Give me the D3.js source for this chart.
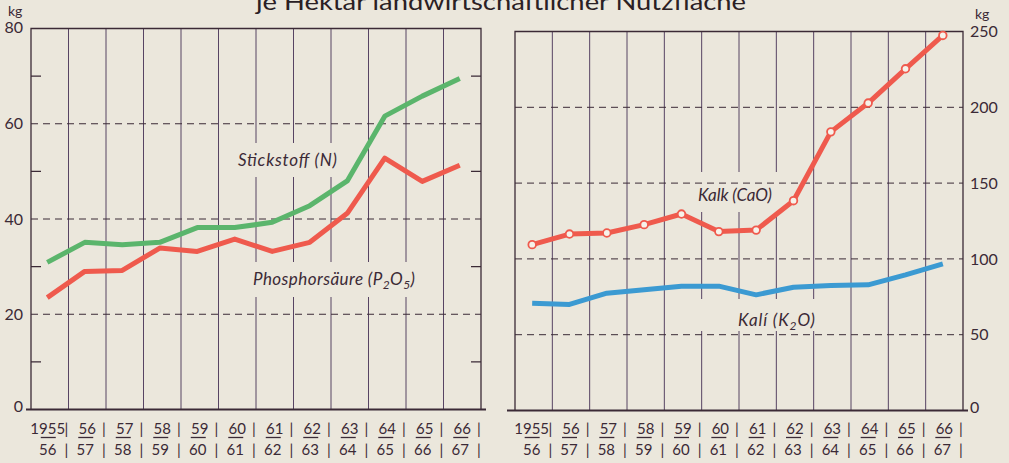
<!DOCTYPE html>
<html>
<head>
<meta charset="utf-8">
<script src="https://cdn.jsdelivr.net/npm/d3@7"></script>
<style>
html, body { margin: 0; padding: 0; background: #ebe7dc; }
svg { display: block; }
</style>
</head>
<body>
<svg id="chart" width="1009" height="463"></svg>
<script>
// Wirtschaftsjahre 1955/56 .. 1966/67
const seasonFrom = ["1955", "56", "57", "58", "59", "60", "61", "62", "63", "64", "65", "66"];
const seasonTo = ["56", "57", "58", "59", "60", "61", "62", "63", "64", "65", "66", "67"];

// kg je Hektar (links)
const stickstoff = [30.9, 35.1, 34.6, 35.1, 38.2, 38.2, 39.3, 42.8, 48.0, 61.6, 65.8, 69.5];
const phosphor = [23.5, 29.0, 29.2, 33.9, 33.2, 35.8, 33.2, 35.1, 41.2, 52.8, 47.9, 51.3];

// kg je Hektar (rechts)
const kalk = [109.4, 116.4, 117.1, 122.6, 129.6, 118.0, 119.0, 138.4, 183.8, 202.8, 225.4, 247.4];
const kali = [70.8, 70.0, 77.4, 79.6, 82.0, 82.0, 76.3, 81.3, 82.4, 82.9, 89.5, 96.7];

const leftTicks = [0, 20, 40, 60, 80];
const leftMinor = [10, 30, 50, 70];
const rightTicks = [0, 50, 100, 150, 200, 250];

const svg = d3.select("#chart");
const paper = "#ebe7dc";
const ink = "#3b2a36";
const gridInk = "#574463";
const font = "Lato, 'Noto Sans', sans-serif";

const idx = d3.range(seasonFrom.length);

svg.append("rect").attr("width", 1009).attr("height", 463).attr("fill", paper);

// title, cut off at the top edge
svg.append("text")
    .attr("x", 256).attr("y", 10)
    .attr("textLength", 490).attr("lengthAdjust", "spacingAndGlyphs")
    .attr("font-family", font).attr("font-size", 23).attr("fill", "#2a2024")
    .text("je Hektar landwirtschaftlicher Nutzfläche");

const xL = d3.scaleBand().domain(idx).range([31, 481]);
const yL = d3.scaleLinear().domain([0, 80]).range([409.5, 28.5]);
const xR = d3.scaleBand().domain(idx).range([515, 963]);
const yR = d3.scaleLinear().domain([0, 250]).range([410.5, 31.5]);

function drawPanel({ x, y, dashed, minor, knockouts, axisX0, axisX1 }) {
    const g = svg.append("g");
    const [x0, x1] = x.range();
    const [yb, yt] = y.range();

    // vertical column lines
    g.selectAll(".vline").data(idx.slice(1)).enter().append("line")
        .attr("x1", d => x(d)).attr("x2", d => x(d))
        .attr("y1", yt).attr("y2", yb)
        .attr("stroke", gridInk).attr("stroke-width", 1);

    // blank out the grid behind the series labels, as in print
    g.selectAll(".ko").data(knockouts).enter().append("rect")
        .attr("x", d => d[0]).attr("y", d => d[1]).attr("width", d => d[2]).attr("height", d => d[3])
        .attr("fill", paper);

    // dashed horizontal grid
    g.selectAll(".hline").data(dashed).enter().append("line")
        .attr("x1", x0).attr("x2", x1)
        .attr("y1", d => y(d)).attr("y2", d => y(d))
        .attr("stroke", ink).attr("stroke-width", 1)
        .attr("stroke-dasharray", "7,5");

    // small ticks on both borders
    g.selectAll(".minor").data(minor).enter().append("path")
        .attr("d", d => `M${x0},${y(d)}h10M${x1},${y(d)}h-10`)
        .attr("stroke", ink).attr("stroke-width", 1.2);

    // frame
    g.append("path")
        .attr("d", `M${x0},${yb}V${yt}H${x1}V${yb}`)
        .attr("fill", "none").attr("stroke", ink).attr("stroke-width", 1.3);
    g.append("line")
        .attr("x1", axisX0).attr("x2", axisX1).attr("y1", yb).attr("y2", yb)
        .attr("stroke", ink).attr("stroke-width", 2.2);

    // season labels below
    const lab = g.append("g")
        .attr("font-family", font).attr("font-size", 15).attr("fill", ink)
        .attr("text-anchor", "middle");
    const cx = i => x(i) + x.bandwidth() / 2;
    lab.selectAll(".from").data(idx).enter().append("text")
        .attr("x", d => cx(d) - (d === 0 ? 2 : 0)).attr("y", 434)
        .text(d => seasonFrom[d]);
    lab.selectAll(".to").data(idx).enter().append("text")
        .attr("x", d => cx(d) - 2).attr("y", 455)
        .text(d => seasonTo[d]);
    lab.selectAll(".bar").data(idx).enter().append("line")
        .attr("x1", d => cx(d) - 9).attr("x2", d => cx(d) + 6)
        .attr("y1", 437.5).attr("y2", 437.5)
        .attr("stroke", ink).attr("stroke-width", 1.3);
    lab.selectAll(".sep1").data(idx).enter().append("text")
        .attr("x", d => x(d) + x.bandwidth() - 2).attr("y", 434).text("|");
    lab.selectAll(".sep2").data(idx).enter().append("text")
        .attr("x", d => x(d) + x.bandwidth() - 2).attr("y", 455).text("|");

    return g;
}

function drawSeries(g, x, y, values, color, shift) {
    const line = d3.line()
        .x((d, i) => x(i) + x.bandwidth() / 2 + shift)
        .y(d => y(d));
    g.append("path").datum(values)
        .attr("d", line)
        .attr("fill", "none").attr("stroke", color)
        .attr("stroke-width", 5).attr("stroke-linejoin", "round");
}

function seriesLabel(px, py, width, parts) {
    const t = svg.append("text")
        .attr("x", px).attr("y", py)
        .attr("font-family", font).attr("font-size", 17).attr("font-style", "italic")
        .attr("fill", ink)
        .attr("textLength", width).attr("lengthAdjust", "spacing");
    parts.forEach(p => {
        const s = t.append("tspan").text(p.t);
        if (p.sub) s.attr("font-size", 12).attr("dy", 4);
        if (p.up) s.attr("dy", -4);
    });
}

// ---- left panel ----
const left = drawPanel({
    x: xL, y: yL,
    dashed: [20, 40, 60], minor: leftMinor,
    knockouts: [[233, 143, 110, 34], [248, 262, 172, 35]],
    axisX0: 26, axisX1: 486
});
drawSeries(left, xL, yL, stickstoff, "#5bb56c", -2.5);
drawSeries(left, xL, yL, phosphor, "#ef5a4d", -2.5);

const axL = svg.append("g").attr("transform", "translate(23,0)")
    .call(d3.axisLeft(yL).tickValues(leftTicks).tickSize(0).tickPadding(0));
axL.select(".domain").remove();
axL.selectAll("text").attr("font-family", font).attr("font-size", 16).attr("fill", ink)
    .attr("dy", d => d === 0 ? "0.1em" : d === 80 ? "0.25em" : "0.32em");
svg.append("text").attr("x", 8).attr("y", 16).attr("font-family", font).attr("font-size", 14)
    .attr("fill", ink).text("kg");

seriesLabel(238, 166, 99, [{ t: "Stickstoff (N)" }]);
seriesLabel(253, 285, 162, [{ t: "Phosphorsäure (P" }, { t: "2", sub: true }, { t: "O", up: true }, { t: "5", sub: true }, { t: ")", up: true }]);

// ---- right panel ----
const right = drawPanel({
    x: xR, y: yR,
    dashed: [50, 100, 150, 200], minor: [],
    knockouts: [[692, 172, 88, 40], [695, 299, 125, 32]],
    axisX0: 507, axisX1: 968
});
drawSeries(right, xR, yR, kali, "#3b9ad2", -1.5);
drawSeries(right, xR, yR, kalk, "#ef5a4d", -1.5);
right.selectAll(".mark").data(kalk).enter().append("circle")
    .attr("cx", (d, i) => xR(i) + xR.bandwidth() / 2 - 1.5)
    .attr("cy", d => yR(d))
    .attr("r", 3.8)
    .attr("fill", "#f6f2ea").attr("stroke", "#ef5a4d").attr("stroke-width", 1.8);

const axR = svg.append("g").attr("transform", "translate(970,0)")
    .call(d3.axisRight(yR).tickValues(rightTicks).tickSize(0).tickPadding(0));
axR.select(".domain").remove();
axR.selectAll("text").attr("font-family", font).attr("font-size", 16).attr("fill", ink)
    .attr("dy", d => d === 0 ? "0.15em" : "0.32em");
svg.append("text").attr("x", 975).attr("y", 19).attr("font-family", font).attr("font-size", 14)
    .attr("fill", ink).text("kg");

seriesLabel(698, 201, 74, [{ t: "Kalk (CaO)" }]);
seriesLabel(738, 326, 77, [{ t: "Kalí (K" }, { t: "2", sub: true }, { t: "O)", up: true }]);
</script>
</body>
</html>
